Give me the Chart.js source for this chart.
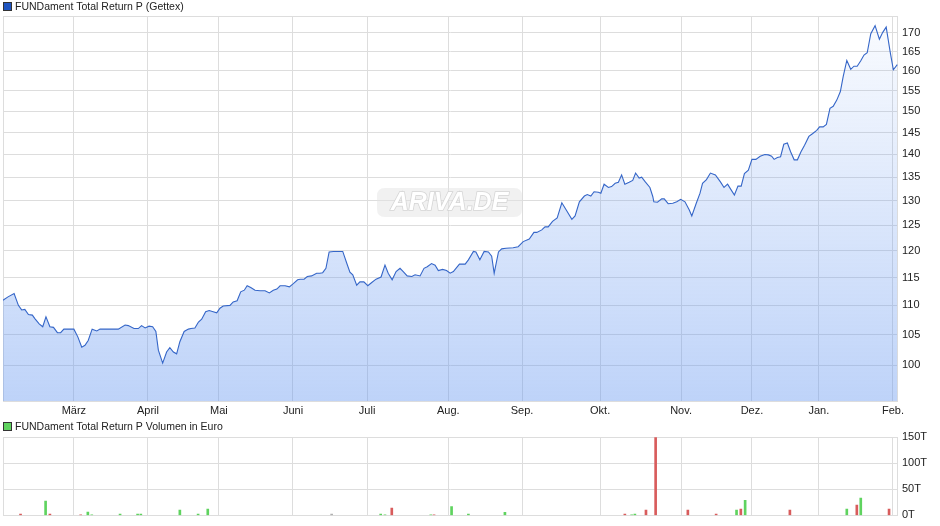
<!DOCTYPE html>
<html><head><meta charset="utf-8">
<script src="https://cdn.jsdelivr.net/npm/chart.js@4.4.0/dist/chart.umd.min.js"></script>
<style>
html,body{margin:0;padding:0;background:#fff;}
#wrap{position:relative;width:940px;height:526px;overflow:hidden;background:#fff;}
#c1{position:absolute;left:0;top:0;}
#c2{position:absolute;left:0;top:420px;}
</style></head><body>
<div id="wrap"><canvas id="c1" width="940" height="420"></canvas><canvas id="c2" width="940" height="106"></canvas></div>
<script>
// ---------- data ----------
const priceTitle = 'FUNDament Total Return P (Gettex)';
const volumeTitle = 'FUNDament Total Return P Volumen in Euro';
const monthLabels = ['März','April','Mai','Juni','Juli','Aug.','Sep.','Okt.','Nov.','Dez.','Jan.','Feb.'];
// position of month starts on the trading-day axis
const monthTickPos = [19.8,40.5,60.3,81.0,101.7,124.4,145.0,166.8,189.4,209.2,227.9,248.6];
const priceTicks = [100,105,110,115,120,125,130,135,140,145,150,155,160,165,170];
const volumeTicks = [0,50,100,150];

const priceIdx = [0,1.4,3.1,4.3,5.2,6.1,7.1,8.2,8.9,10.1,11.1,12.0,13.1,14.1,15.2,16.1,17.0,19.8,20.9,22.0,22.9,23.8,24.9,26.2,27.1,32.2,34.1,35.0,36.6,37.8,38.7,39.7,40.8,41.8,42.7,43.4,44.6,45.7,46.6,47.6,48.5,49.4,50.6,51.8,52.5,53.6,54.6,55.5,56.6,57.6,58.7,59.7,60.6,61.5,63.4,64.3,65.4,66.4,67.4,68.2,69.2,70.4,71.8,73.2,74.4,75.5,76.5,77.4,78.8,80.0,81.1,82.3,83.0,84.1,85.0,86.2,87.6,88.5,89.3,90.2,91.1,92.3,94.9,96.0,96.9,97.7,98.8,99.7,100.8,101.9,103.0,104.2,105.6,106.7,107.6,108.7,109.8,110.9,111.8,112.9,114.2,115.1,116.5,117.6,118.5,119.7,120.7,121.6,122.8,123.9,124.9,125.8,127.5,129.1,130.0,131.4,132.1,133.2,134.4,135.6,136.5,137.2,138.4,139.3,140.5,142.5,143.9,145.3,147.0,148.3,149.1,150.5,151.4,152.3,153.5,154.8,156.1,157.5,158.9,159.8,161.0,162.4,163.2,164.2,165.1,166.3,167.0,167.9,169.1,170.0,171.0,171.9,172.8,173.7,174.9,175.9,176.7,177.7,178.4,179.3,180.7,181.5,181.8,182.8,184.0,184.7,185.8,187.1,188.2,189.3,190.5,191.7,192.4,193.6,194.7,195.4,196.5,197.6,199.0,200.4,201.4,202.4,203.3,204.3,205.3,206.2,207.1,208.2,209.2,210.3,211.5,212.8,213.8,214.7,215.4,216.3,217.2,218.1,219.1,220.0,221.0,221.9,222.9,223.9,225.1,226.1,227.3,228.1,229.1,230.0,231.0,231.9,232.9,233.9,234.7,235.7,236.8,237.7,238.6,239.6,240.5,241.4,242.4,243.6,244.8,245.7,246.7,247.8,248.7,249.8];
const priceValues = [110.9,111.5,112.1,110.0,109.2,109.3,108.4,108.3,107.7,106.8,106.3,108.0,106.3,106.2,105.3,105.3,105.9,105.9,104.6,102.9,103.2,104.0,105.9,105.6,105.9,105.9,106.6,106.5,106.0,106.0,106.5,106.1,106.4,106.3,105.5,102.4,100.3,102.1,102.8,102.1,101.8,103.8,105.5,105.9,106.0,106.1,107.1,107.6,108.9,109.1,108.9,108.7,109.5,109.9,110.0,110.6,110.8,112.4,112.7,113.5,113.2,112.7,112.6,112.6,112.2,112.7,112.9,113.5,113.5,113.3,113.9,114.6,114.7,114.7,115.2,115.3,115.8,115.8,115.9,116.7,119.8,119.9,119.9,117.7,116.0,115.5,113.6,114.2,114.2,113.5,114.1,114.7,115.1,117.3,115.8,114.6,116.1,116.7,116.1,115.3,115.2,115.5,115.3,116.7,117.0,117.6,117.3,116.3,116.5,116.3,115.8,116.1,117.5,117.5,118.3,119.9,119.8,118.3,119.9,119.8,119.0,115.8,119.8,120.4,120.5,120.6,120.8,121.8,122.3,123.6,123.6,124.1,124.7,124.7,125.8,126.5,129.6,127.9,126.2,126.9,129.8,131.0,131.3,131.0,131.9,131.8,131.6,133.5,132.8,133.0,133.7,133.9,135.5,133.5,133.9,134.3,135.9,134.8,135.0,134.1,132.8,130.9,129.8,129.7,130.4,130.4,129.4,129.5,129.8,130.3,129.8,128.1,126.9,129.4,131.6,133.7,134.5,135.9,135.5,134.0,132.8,133.5,132.4,131.2,133.1,133.1,135.8,136.5,138.9,138.9,139.6,140.0,139.9,139.6,138.9,139.3,139.5,142.3,142.6,140.6,138.8,138.8,140.6,142.1,144.1,144.7,145.5,146.3,146.3,146.9,150.7,151.2,152.7,154.8,158.6,162.7,160.4,161.2,161.2,162.6,164.1,164.7,169.8,172.0,168.3,170.1,171.6,165.0,160.3,161.6];

const volumeIdx = [4.9,11.9,13.1,21.7,23.7,24.8,32.7,37.6,38.5,49.4,54.5,57.2,91.8,105.5,106.7,108.6,119.5,120.4,125.3,130.0,140.2,173.7,175.6,176.5,179.6,182.3,191.3,199.2,204.9,206.1,207.3,219.8,235.7,238.5,239.6,247.5];
const volumeValues = [2.5,27.2,2.5,1,6.3,1,2.5,2.5,2.5,10,2.5,12,2.5,2.5,1,14,1,1,17,2.5,5.7,2.5,1,2.5,10,148.7,10,2.5,10,12,29,10,12,19.6,33,12];
const volumeDirection = ['down','up','down','down','up','up','up','up','up','up','up','up','flat','up','up','down','up','down','up','up','up','down','up','up','down','down','down','down','up','down','up','down','up','down','up','down'];

// ---------- styling ----------
const FONT = '"Liberation Sans", Arial, sans-serif';
const GRID = '#dddddd';
const TXT = '#222222';
const dirColor = {up:'#5fd35f', down:'#d85c5c', flat:'#b0b0b0'};

function frameAndMarks(opts){
  return {
    id:'frame_'+opts.id,
    beforeDatasetsDraw(chart){
      const c = chart.ctx, a = chart.chartArea;
      c.save();
      c.strokeStyle = GRID; c.lineWidth = 1;
      c.strokeRect(Math.round(a.left)+0.5, Math.round(a.top)+0.5, Math.round(a.right-a.left)-1, Math.round(a.bottom-a.top));
      if (opts.watermark){
        const x = 377, y = 188, w = 145, h = 29, r = 8;
        c.fillStyle = 'rgba(228,228,228,0.5)';
        c.beginPath();
        c.moveTo(x+r,y); c.lineTo(x+w-r,y); c.quadraticCurveTo(x+w,y,x+w,y+r);
        c.lineTo(x+w,y+h-r); c.quadraticCurveTo(x+w,y+h,x+w-r,y+h);
        c.lineTo(x+r,y+h); c.quadraticCurveTo(x,y+h,x,y+h-r);
        c.lineTo(x,y+r); c.quadraticCurveTo(x,y,x+r,y); c.closePath(); c.fill();
        c.font = 'italic bold 25px ' + FONT;
        c.textAlign = 'center'; c.textBaseline = 'middle';
        c.lineWidth = 1.5; c.strokeStyle = 'rgba(210,210,210,0.9)';
        c.strokeText('ARIVA.DE', x+w/2, y+h/2+1);
        c.fillStyle = '#ffffff';
        c.fillText('ARIVA.DE', x+w/2, y+h/2+1);
      }
      c.restore();
    },
    afterDraw(chart){
      const c = chart.ctx;
      c.save();
      c.fillStyle = opts.legendColor; c.strokeStyle = '#333';
      c.fillRect(3.5, 2.5, 8, 8); c.lineWidth = 1; c.strokeRect(3.5, 2.5, 8, 8);
      c.fillStyle = TXT; c.font = '10.5px ' + FONT; c.textAlign='left'; c.textBaseline='middle';
      c.fillText(opts.legendText, 15, 7);
      c.restore();
    }
  };
}

const monthXAxis = (showLabels, h) => ({
  type:'linear', min:0, max:250, offset:false,
  afterBuildTicks: s => { s.ticks = monthTickPos.map(v=>({value:v})); },
  afterFit: s => { s.height = h; },
  grid:{color:GRID, lineWidth:1, drawTicks:false, offset:false},
  border:{display:false},
  ticks:{display:showLabels, autoSkip:false, maxRotation:0, padding:3, color:TXT, font:{family:FONT,size:11},
         callback:(v,i)=>monthLabels[i]}
});

// ---------- price chart ----------
new Chart(document.getElementById('c1'), {
  type:'line',
  data:{datasets:[{
    data: priceIdx.map((x,i)=>({x:x, y:priceValues[i]})),
    borderColor:'#3566c8', borderWidth:1.1, pointRadius:0, tension:0,
    fill:'start',
    backgroundColor: (ctx)=>{
      const ch = ctx.chart, a = ch.chartArea;
      if(!a) return 'rgba(100,150,240,0.3)';
      const g = ch.ctx.createLinearGradient(0,a.top,0,a.bottom);
      g.addColorStop(0,'rgba(100,150,240,0.03)');
      g.addColorStop(1,'rgba(100,150,240,0.42)');
      return g;
    }
  }]},
  options:{
    responsive:false, animation:false, devicePixelRatio:1,
    layout:{padding:{top:16,left:3,right:0,bottom:0}},
    plugins:{legend:{display:false}, tooltip:{enabled:false}},
    scales:{
      x: monthXAxis(true, 19),
      y:{type:'logarithmic', position:'right', min:94.41, max:174.67,
         afterBuildTicks: s => { s.ticks = priceTicks.map(v=>({value:v})); },
         afterFit: s => { s.width = 42; },
         grid:{color:GRID, lineWidth:1, drawTicks:false},
         border:{display:false},
         ticks:{padding:4, color:TXT, font:{family:FONT,size:11}, callback:v=>String(v)}}
    }
  },
  plugins:[frameAndMarks({id:'p', watermark:true, legendColor:'#1f55c0', legendText:priceTitle})]
});

// ---------- volume chart ----------
new Chart(document.getElementById('c2'), {
  type:'bar',
  data:{datasets:[{
    data: volumeIdx.map((x,i)=>({x:x, y:volumeValues[i]})),
    backgroundColor: volumeDirection.map(d=>dirColor[d]),
    barThickness:2, borderWidth:0
  }]},
  options:{
    responsive:false, animation:false, devicePixelRatio:1,
    layout:{padding:{top:17,left:3,right:0,bottom:0}},
    plugins:{legend:{display:false}, tooltip:{enabled:false}},
    scales:{
      x: monthXAxis(false, 10),
      y:{type:'linear', position:'right', min:0, max:150,
         afterBuildTicks: s => { s.ticks = volumeTicks.map(v=>({value:v})); },
         afterFit: s => { s.width = 42; },
         grid:{color:GRID, lineWidth:1, drawTicks:false},
         border:{display:false},
         ticks:{padding:4, color:TXT, font:{family:FONT,size:11}, callback:v=>v+'T'}}
    }
  },
  plugins:[frameAndMarks({id:'v', watermark:false, legendColor:'#5fd35f', legendText:volumeTitle})]
});
</script>
</body></html>
